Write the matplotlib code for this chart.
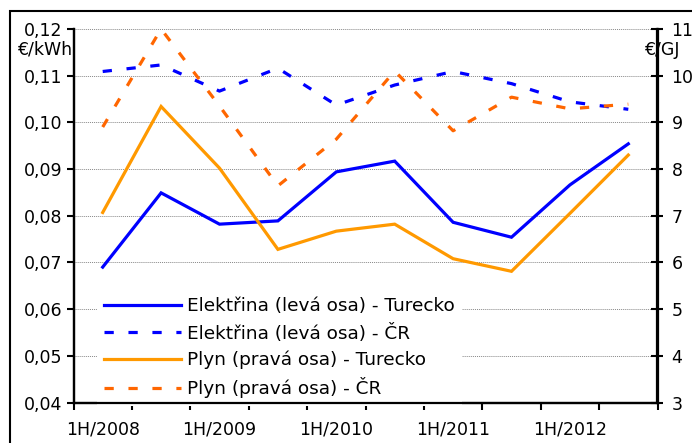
import matplotlib
matplotlib.use("Agg")
import matplotlib.pyplot as plt
from matplotlib.patches import Rectangle
from matplotlib.ticker import MultipleLocator, FixedLocator, FuncFormatter

# pololetí 2008-2012
periods = ["1H/2008", "2H/2008", "1H/2009", "2H/2009", "1H/2010",
           "2H/2010", "1H/2011", "2H/2011", "1H/2012", "2H/2012"]

# elektřina (€/kWh, levá osa)
elek_tr = [0.0690, 0.0849, 0.0782, 0.0789, 0.0894, 0.0917, 0.0786, 0.0754, 0.0866, 0.0954]
elek_cr = [0.1109, 0.1123, 0.1067, 0.1116, 0.1037, 0.1080, 0.1109, 0.1083, 0.1044, 0.1028]
# plyn (€/GJ, pravá osa)
plyn_tr = [7.07, 9.34, 8.02, 6.28, 6.67, 6.82, 6.08, 5.81, 7.05, 8.30]
plyn_cr = [8.90, 11.0, 9.35, 7.64, 8.64, 10.10, 8.82, 9.54, 9.29, 9.39]

labels = ["Elektřina (levá osa) - Turecko", "Elektřina (levá osa) - ČR",
          "Plyn (pravá osa) - Turecko", "Plyn (pravá osa) - ČR"]

plt.rcParams["font.family"] = ["DejaVu Sans"]
plt.rcParams["font.size"] = 12.5

W, H = 692, 443
fig = plt.figure(figsize=(W / 100, H / 100), dpi=100)
ax = fig.add_axes([73.5 / W, 1 - 402.5 / H, 584 / W, 373.5 / H])
ax2 = ax.twinx()

x = list(range(len(periods)))
dash = (2.9, 4.6)
blue, orange, orange2 = "#0000ff", "#ff9900", "#ff6600"
lw = 2.3

l1, = ax.plot(x, elek_tr, color=blue, lw=lw, solid_joinstyle="miter")
l2, = ax.plot(x, elek_cr, color=blue, lw=lw, linestyle=(0, dash))
l3, = ax2.plot(x, plyn_tr, color=orange, lw=lw, solid_joinstyle="miter")
l4, = ax2.plot(x, plyn_cr, color=orange2, lw=lw, linestyle=(0, dash))

ax.set_xlim(-0.5, len(periods) - 0.5)
ax.set_ylim(0.04, 0.12)
ax2.set_ylim(3, 11)
ax.yaxis.set_major_locator(MultipleLocator(0.01))
ax2.yaxis.set_major_locator(MultipleLocator(1))
ax.yaxis.set_major_formatter(FuncFormatter(lambda v, p: f"{v:.2f}".replace(".", ",")))
ax2.yaxis.set_major_formatter(FuncFormatter(lambda v, p: f"{v:.0f}"))

ax.grid(axis="y", color="#888888", linestyle=(0, (1, 1)), lw=0.7)

# ticks between categories, labels every other period
ax.xaxis.set_major_locator(FixedLocator([i - 0.5 for i in range(len(periods) + 1)]))
ax.xaxis.set_major_formatter(FuncFormatter(lambda v, p: ""))
ax.xaxis.set_minor_locator(FixedLocator(x[::2]))
ax.set_xticklabels(periods[::2], minor=True)
ax.tick_params(axis="x", which="major", direction="out", length=5, width=1.5)
ax.tick_params(axis="x", which="minor", length=0, pad=13)
ax.tick_params(axis="y", direction="out", length=5, width=1.5, pad=3)
ax2.tick_params(axis="y", direction="inout", length=8, width=1.5, pad=6)

for a in (ax, ax2):
    a.spines["top"].set_visible(False)
    for s in ("left", "right", "bottom"):
        a.spines[s].set_linewidth(1.6)

fig.text(17 / W, 1 - 50 / H, "€/kWh", ha="left", va="center")
fig.text(644 / W, 1 - 50 / H, "€/GJ", ha="left", va="center")

# legend on the lower axes so the twin's bottom spine stays on top of it
leg = ax.legend([l1, l2, l3, l4], labels, loc="upper left", fontsize=13.3,
                bbox_to_anchor=(97 / W, 1 - 290 / H), bbox_transform=fig.transFigure,
                borderaxespad=0, borderpad=0.4, handlelength=4.15, handletextpad=0.33,
                labelspacing=0.44, fancybox=False, framealpha=1)
leg.get_frame().set_edgecolor("none")

fig.patches.append(Rectangle((10 / W, -0.1), 1.1, 1.1 - 11 / H, transform=fig.transFigure,
                             fill=False, edgecolor="black", lw=1.5, clip_on=False))

fig.savefig("out.png", dpi=100)
